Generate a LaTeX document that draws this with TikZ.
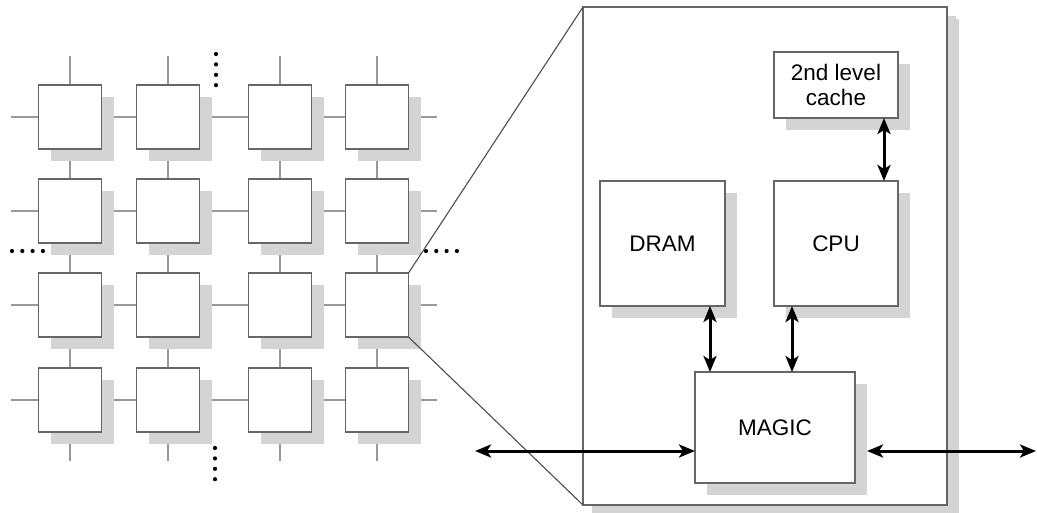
\documentclass[tikz,border=0pt]{standalone}
\usepackage{fontspec}
\setmainfont{Liberation Sans}
\usetikzlibrary{arrows.meta,shadows,backgrounds}

\begin{document}
\begin{tikzpicture}[x=1pt, y=-1pt,
    offshadow/.style={general shadow={fill=black!17, shadow xshift=#1, shadow yshift=-#1}},
    cell/.style={draw=black!60, line width=1.5pt, fill=white, inner sep=0pt, outer sep=0pt,
        minimum width=63pt, minimum height=64pt, offshadow=12pt},
    unit/.style={draw=black!60, line width=1.5pt, fill=white, inner sep=0pt, outer sep=0pt,
        align=center, font=\fontsize{22.5}{25}\selectfont, offshadow=12pt},
    link/.style={draw=black!40, line width=1.8pt},
    bus/.style={<->, >={Stealth[length=16pt, width=13pt, inset=4pt]}, line width=3pt},
    zoomline/.style={draw=black!70, line width=1.1pt}]
    \useasboundingbox (0,0) rectangle (1037,512);

    % the mesh of nodes
    \foreach \c/\x in {1/70,2/168,3/280,4/377}
        \foreach \r/\y in {1/117,2/211,3/305,4/400}
            \node[cell] (p\r\c) at (\x,\y) {};
    \begin{pgfonlayer}{background}
        \foreach \i in {1,...,4} {
            \draw[link] ([xshift=-28pt]p\i1.west) -- (p\i1) -- (p\i2) -- (p\i3) -- (p\i4)
                -- ([xshift=28pt]p\i4.east);
            \draw[link] ([yshift=29pt]p1\i.north) -- (p1\i) -- (p2\i) -- (p3\i) -- (p4\i)
                -- ([yshift=-29pt]p4\i.south);
        }
    \end{pgfonlayer}
    \foreach \t in {0,...,3} {
        \fill (216,54+10.4*\t) circle (2.1pt);
        \fill (215,448+10.4*\t) circle (2.1pt);
        \fill (12+10.3*\t,251) circle (2.1pt);
        \fill (426+10.3*\t,251) circle (2.1pt);
    }

    % one node magnified
    \node[unit, minimum width=364pt, minimum height=498pt, offshadow=9pt] (board) at (765,256) {};
    \draw[zoomline] (p34.north east) -- (board.north west);
    \draw[zoomline] (p34.south east) -- (board.south west);

    \node[unit, minimum width=125pt, minimum height=125pt] (dram) at (662.5,243.5) {DRAM};
    \node[unit, minimum width=124pt, minimum height=125pt] (cpu) at (836,243.5) {CPU};
    \node[unit, minimum width=124pt, minimum height=66pt] (cache) at (836,85) {2nd level\\cache};
    \node[unit, minimum width=160pt, minimum height=111pt] (magic) at (775,427.5) {MAGIC};
    \coordinate (netin) at (475,451);
    \coordinate (netout) at (1036,451);

    \draw[bus] ([xshift=48pt]cache.south) -- ([xshift=48pt]cpu.north);
    \draw[bus] ([xshift=47.5pt]dram.south) -- ([xshift=47.5pt]dram.south |- magic.north);
    \draw[bus] ([xshift=-44pt]cpu.south) -- ([xshift=-44pt]cpu.south |- magic.north);
    \draw[bus] (netin) -- (netin -| magic.west);
    \draw[bus] ([xshift=12pt]magic.east |- netout) -- (netout);
\end{tikzpicture}
\end{document}
